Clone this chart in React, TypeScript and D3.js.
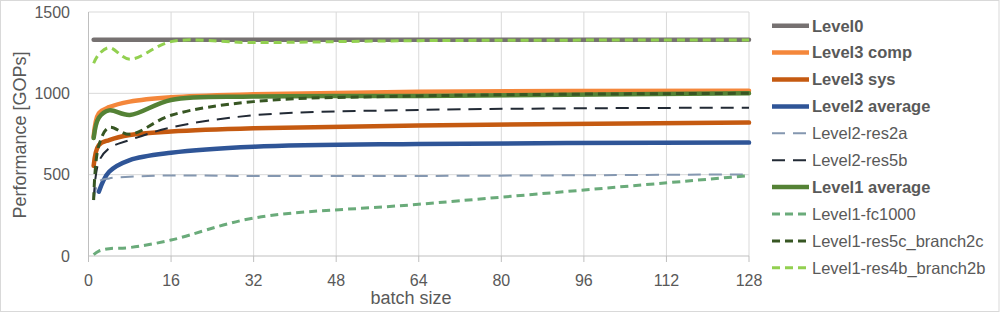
import * as d3 from "d3";
import React from "react";

// batch sizes measured
const batchSizes = [1, 2, 4, 8, 16, 32, 64, 128];
const xTicks = [0, 16, 32, 48, 64, 80, 96, 112, 128];
const yTicks = [0, 500, 1000, 1500];

const level0 = [1330, 1330, 1330, 1330, 1330, 1330, 1330, 1330];
const level3Comp = [733, 877, 915, 949, 976, 994, 1010, 1016];
const level3Sys = [555, 682, 713, 744, 765, 785, 803, 820];
const level2Avg = [null, 395, 518, 590, 635, 672, 689, 697];
const level2Res2a = [344, 457, 477, 487, 495, 492, 492, 502];
const level2Res5b = [344, 580, 662, 713, 790, 865, 898, 912];
const level1Avg = [725, 850, 895, 867, 959, 980, 984, 1000];
const level1Fc1000 = [8, 30, 45, 52, 98, 233, 318, 494];
const level1Res5c = [344, 680, 790, 748, 865, 949, 984, 1000];
const level1Res4b = [1185, 1240, 1281, 1210, 1318, 1312, 1324, 1328];

const seriesList = [
  { name: "Level0", values: level0, color: "#767171", width: 4.5, dash: null, bold: true },
  { name: "Level3 comp", values: level3Comp, color: "#f4873b", width: 4.5, dash: null, bold: true },
  { name: "Level3 sys", values: level3Sys, color: "#c55a11", width: 4.5, dash: null, bold: true },
  { name: "Level2 average", values: level2Avg, color: "#2f5597", width: 4.5, dash: null, bold: true },
  { name: "Level2-res2a", values: level2Res2a, color: "#8497b0", width: 2, dash: "13 8", bold: false },
  { name: "Level2-res5b", values: level2Res5b, color: "#222a35", width: 2, dash: "13 8", bold: false },
  { name: "Level1 average", values: level1Avg, color: "#548235", width: 4.5, dash: null, bold: true },
  { name: "Level1-fc1000", values: level1Fc1000, color: "#6aab7a", width: 3, dash: "8 5", bold: false },
  { name: "Level1-res5c_branch2c", values: level1Res5c, color: "#375623", width: 3, dash: "8 5", bold: false },
  { name: "Level1-res4b_branch2b", values: level1Res4b, color: "#92d050", width: 3, dash: "8 5", bold: false },
];

if (typeof document !== "undefined") document.body.style.margin = "0";

const App = () => {
  const w = 1001;
  const h = 314;
  const x = d3.scaleLinear().domain([0, 128]).range([88.5, 749]);
  const y = d3.scaleLinear().domain([0, 1500]).range([256, 12]);
  const font = "'Liberation Sans', Arial, sans-serif";
  const textColor = "#595959";

  const line = d3
    .line<[number, number | null]>()
    .defined((d) => d[1] != null)
    .x((d) => x(d[0]))
    .y((d) => y(d[1] as number))
    .curve(d3.curveCatmullRom.alpha(0.5));

  return (
    <svg width={w} height={h} style={{ display: "block" }}>
      <rect x={0.5} y={0.5} width={998.5} height={311} fill="#fff" stroke="#d9d9d9" />
      {/* gridlines */}
      {xTicks.slice(1).map((t) => (
        <line key={"gx" + t} x1={x(t)} x2={x(t)} y1={y(1500)} y2={y(0)} stroke="#d9d9d9" />
      ))}
      {yTicks.slice(1).map((t) => (
        <line key={"gy" + t} x1={x(0)} x2={x(128)} y1={y(t)} y2={y(t)} stroke="#d9d9d9" />
      ))}
      {/* axes */}
      <line x1={x(0)} x2={x(0)} y1={y(1500)} y2={y(0)} stroke="#bfbfbf" />
      <line x1={x(0)} x2={x(128)} y1={y(0)} y2={y(0)} stroke="#bfbfbf" />
      {xTicks.map((t) => (
        <line key={"tx" + t} x1={x(t)} x2={x(t)} y1={y(0)} y2={y(0) + 6} stroke="#bfbfbf" />
      ))}
      {xTicks.map((t) => (
        <text key={"lx" + t} x={x(t)} y={285.5} textAnchor="middle" fontFamily={font} fontSize={16} fill={textColor}>
          {t}
        </text>
      ))}
      {yTicks.map((t) => (
        <text key={"ly" + t} x={70} y={y(t) + 5.5} textAnchor="end" fontFamily={font} fontSize={16} fill={textColor}>
          {t}
        </text>
      ))}
      <text x={411} y={304} textAnchor="middle" fontFamily={font} fontSize={18} fill={textColor}>
        batch size
      </text>
      <text
        transform="translate(26,135) rotate(-90)"
        textAnchor="middle"
        fontFamily={font}
        fontSize={18}
        fill={textColor}
      >
        Performance [GOPs]
      </text>
      {/* series */}
      {seriesList.map((s) => (
        <path
          key={s.name}
          d={line(batchSizes.map((b, i) => [b, s.values[i]] as [number, number | null])) || ""}
          fill="none"
          stroke={s.color}
          strokeWidth={s.width}
          strokeDasharray={s.dash || undefined}
          strokeLinecap={s.dash ? "butt" : "round"}
        />
      ))}
      {/* legend */}
      {seriesList.map((s, i) => {
        const ly = 25.7 + i * 26.9;
        return (
          <g key={"lg" + s.name}>
            <line
              x1={772}
              x2={809}
              y1={ly}
              y2={ly}
              stroke={s.color}
              strokeWidth={s.width}
              strokeDasharray={s.dash || undefined}
            />
            <text
              x={812}
              y={ly + 5.8}
              fontFamily={font}
              fontSize={16.5}
              fontWeight={s.bold ? "bold" : "normal"}
              fill={textColor}
            >
              {s.name}
            </text>
          </g>
        );
      })}
    </svg>
  );
};

export default App;
